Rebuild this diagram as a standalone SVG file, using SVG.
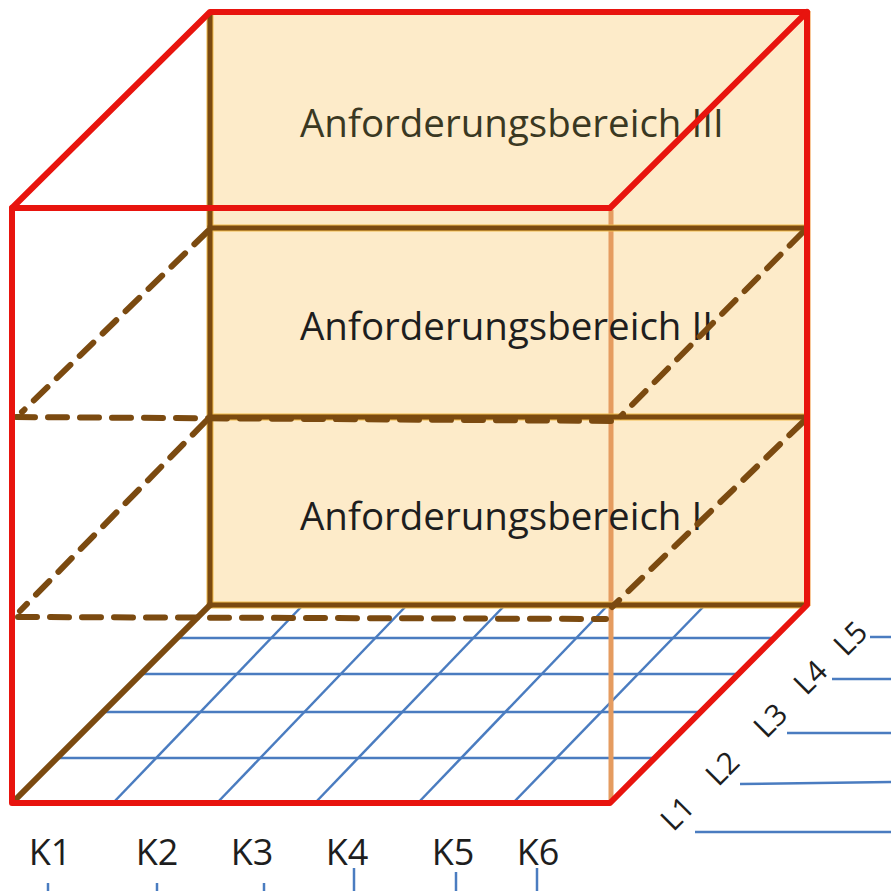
<svg xmlns="http://www.w3.org/2000/svg" width="891" height="891" viewBox="0 0 891 891">
<defs>
<style>
.red{stroke:#E8140E;stroke-width:6;fill:none;stroke-linecap:round;stroke-linejoin:round}
.brown{stroke:#7B4A10;stroke-width:5;fill:none;stroke-linecap:square}
.halo{stroke:#F2BC4C;stroke-width:7;fill:none}
.dash{stroke:#7B4A10;stroke-width:6;fill:none;stroke-dasharray:19 13;stroke-linecap:round}
.grid{stroke:#4A7CC0;stroke-width:2.5;fill:none}
.orange{stroke:#E59C60;stroke-width:5;fill:none}
.lbl{font-family:"Open Sans","Liberation Sans",sans-serif;font-size:38.5px;fill:#1e1e1e}
.axis{font-family:"Open Sans","Liberation Sans",sans-serif;font-size:36px;fill:#1e1e1e}
.laxis{font-family:"Open Sans","Liberation Sans",sans-serif;font-size:30px;fill:#1e1e1e}
</style>
</defs>
<rect width="891" height="891" fill="#FFFFFF"/>
<g id="back-wall">
<rect x="210" y="12" width="600" height="593" fill="#FDEBC9" stroke="#F7C89A" stroke-width="2"/>
</g>
<g id="floor-grid">
<line class="grid" x1="177" y1="638" x2="774" y2="638"/>
<line class="grid" x1="141" y1="674" x2="738" y2="674"/>
<line class="grid" x1="103" y1="712" x2="700" y2="712"/>
<line class="grid" x1="57" y1="758" x2="655" y2="758"/>
<line class="grid" x1="113" y1="803" x2="303" y2="605"/>
<line class="grid" x1="217" y1="803" x2="407" y2="605"/>
<line class="grid" x1="315" y1="803" x2="505" y2="605"/>
<line class="grid" x1="418" y1="803" x2="608" y2="605"/>
<line class="grid" x1="513" y1="803" x2="705" y2="605"/>
</g>
<g id="front-right-edge">
<line class="orange" x1="611" y1="210" x2="611" y2="802"/>
</g>
<g id="level-III">
<text class="lbl" x="300" y="137" style="fill:#3a3822">Anforderungsbereich III</text>
</g>
<g id="level-II">
<text class="lbl" x="300" y="340">Anforderungsbereich II</text>
</g>
<g id="level-I">
<text class="lbl" x="300" y="530">Anforderungsbereich I</text>
</g>
<g id="connectors">
<g id="solid-brown">
<line class="halo" x1="210" y1="14" x2="210" y2="605"/>
<line class="halo" x1="210" y1="228" x2="805" y2="228"/>
<line class="halo" x1="210" y1="417" x2="805" y2="417"/>
<line class="halo" x1="210" y1="605" x2="805" y2="605"/>
<line class="brown" x1="210" y1="14" x2="210" y2="605"/>
<line class="brown" x1="210" y1="228" x2="805" y2="228"/>
<line class="brown" x1="210" y1="417" x2="805" y2="417"/>
<line class="brown" x1="210" y1="605" x2="805" y2="605"/>
<line class="brown" x1="14" y1="801" x2="210" y2="605" style="stroke-width:6"/>
</g>
<g id="dashed-planes">
<line class="dash" x1="208" y1="231" x2="22" y2="412"/>
<line class="dash" x1="16" y1="417" x2="622" y2="421"/>
<line class="dash" x1="803" y1="232" x2="621" y2="416"/>
<line class="dash" x1="206" y1="421" x2="20" y2="611"/>
<line class="dash" x1="18" y1="617" x2="606" y2="619"/>
<line class="dash" x1="803" y1="422" x2="612" y2="607"/>
</g>
<g id="cube-edges">
<polyline class="red" points="12,803 12,208 210,12 807,12 807,605 610,803 12,803"/>
<polyline class="red" points="12,208 610,208 807,12"/>
</g>
<g id="axis-ticks">
<line class="grid" x1="48" y1="883" x2="48" y2="891"/>
<line class="grid" x1="157" y1="883" x2="157" y2="891"/>
<line class="grid" x1="264" y1="883" x2="264" y2="891"/>
<line class="grid" x1="354" y1="868" x2="354" y2="891"/>
<line class="grid" x1="456" y1="872" x2="456" y2="891"/>
<line class="grid" x1="537" y1="868" x2="537" y2="891"/>
<line class="grid" x1="870" y1="637" x2="891" y2="637"/>
<line class="grid" x1="832" y1="679" x2="891" y2="679"/>
<line class="grid" x1="787" y1="733" x2="891" y2="733"/>
<line class="grid" x1="740" y1="784" x2="891" y2="782"/>
<line class="grid" x1="695" y1="832" x2="891" y2="832"/>
</g>
</g>
<g id="k-labels">
<text class="axis" x="50" y="865" text-anchor="middle">K1</text>
<text class="axis" x="157" y="865" text-anchor="middle">K2</text>
<text class="axis" x="252" y="865" text-anchor="middle">K3</text>
<text class="axis" x="347" y="865" text-anchor="middle">K4</text>
<text class="axis" x="453" y="865" text-anchor="middle">K5</text>
<text class="axis" x="538" y="865" text-anchor="middle">K6</text>
</g>
<g id="l-labels">
<text class="laxis" text-anchor="middle" transform="translate(677,813) rotate(-45)" y="11">L1</text>
<text class="laxis" text-anchor="middle" transform="translate(722,768) rotate(-45)" y="11">L2</text>
<text class="laxis" text-anchor="middle" transform="translate(770,720) rotate(-45)" y="11">L3</text>
<text class="laxis" text-anchor="middle" transform="translate(810,677) rotate(-45)" y="11">L4</text>
<text class="laxis" text-anchor="middle" transform="translate(850,638) rotate(-45)" y="11">L5</text>
</g>
</svg>
